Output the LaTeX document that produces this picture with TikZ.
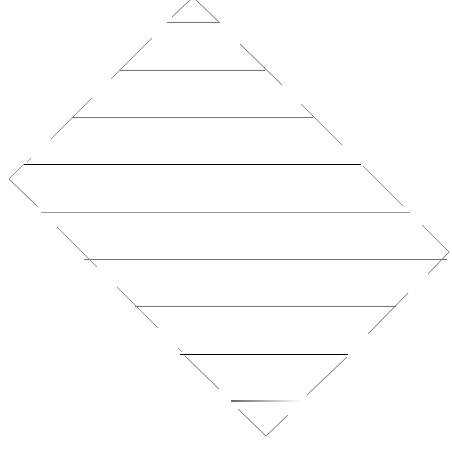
\documentclass[tikz,border=0pt]{standalone}
\usepackage{tikz}
\usetikzlibrary{calc}

\begin{document}
\begin{tikzpicture}[
  x=1pt, y=-1pt,
  rung/.style={draw=black!55, line width=1pt},
  darkrung/.style={draw=black, line width=0.9pt},
  slope/.style={draw=black!50, line width=0.7pt},
]

\useasboundingbox (0,0) rectangle (451,469);

% Rungs
\draw[rung]     (167,22)  -- (219,22);
\draw[rung]     (119,70)  -- (265,70);
\draw[rung]     (72,117)  -- (313,117);
\draw[darkrung] (24,164)  -- (361,164);
\draw[rung, draw=black!40] (41,212) -- (410,212);
\draw[rung]     (84,259)  -- (447,259);
\draw[rung]     (135,306.5) -- (396,306.5);
\draw[darkrung] (180,354) -- (348,354);
\shade[left color=black!60, right color=white] (231,400.6) rectangle (300,401.6);

% Left slopes
\draw[slope] (190,0)   -- (172,17);
\draw[slope] (152,38)  -- (111,79);
\draw[slope] (92,98)   -- (51,139);
\draw[slope] (31,158)  -- (27,162);
\draw[slope] (24,164)  -- (9,179) -- (38,207);
\draw[slope] (57,227)  -- (97,267);
\draw[slope] (117,287) -- (158,328);
\draw[slope] (178,348) -- (182,352);
\draw[slope] (185,356) -- (219,389);
\draw[slope] (238,409) -- (266,436);

% Right slopes
\draw[slope] (196,0)   -- (220,23);
\draw[slope] (240,44)  -- (282,85);
\draw[slope] (301,104) -- (342,145);
\draw[slope] (363,166) -- (403,206);
\draw[slope] (422,225) -- (449,252) -- (428,274);
\draw[slope] (408,293) -- (368,334);
\draw[slope] (347,357) -- (307,395);
\draw[slope] (266,436) -- (288,415);

\end{tikzpicture}
\end{document}
